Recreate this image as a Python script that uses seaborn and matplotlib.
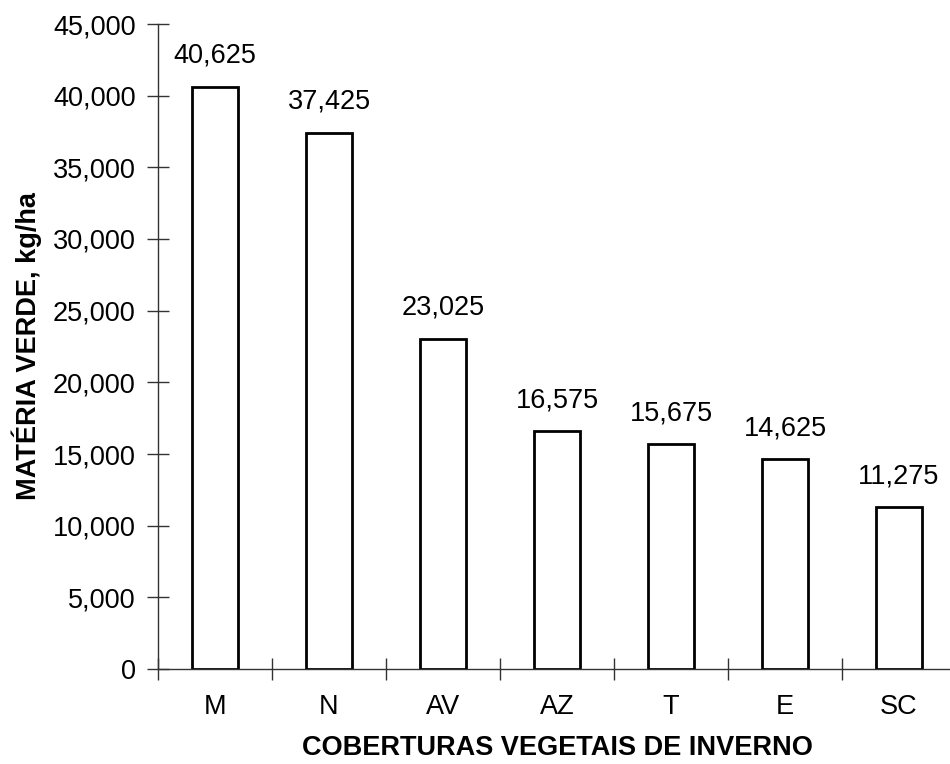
import numpy as np
import pandas as pd
import seaborn as sns
import matplotlib.pyplot as plt
from matplotlib.ticker import FuncFormatter

# data
coberturas = ["M", "N", "AV", "AZ", "T", "E", "SC"]
materia_verde = [40625, 37425, 23025, 16575, 15675, 14625, 11275]

df = pd.DataFrame({"cobertura": coberturas, "mv": materia_verde})

sns.set_style("ticks")
plt.rcParams['font.family'] = ['Liberation Sans', 'DejaVu Sans']
plt.rcParams['text.color'] = 'black'
plt.rcParams['axes.labelcolor'] = 'black'
plt.rcParams['xtick.color'] = 'black'
plt.rcParams['ytick.color'] = 'black'

fs = 19.5

fig = plt.figure(figsize=(9.5, 7.64), dpi=100)
ax = fig.add_axes([158/950, 1 - 669/764, 798/950, 645/764])

sns.barplot(data=df, x="cobertura", y="mv", color="white", edgecolor="black",
            linewidth=2, width=0.4, saturation=1, ax=ax)

# value labels
ax.bar_label(ax.containers[0], labels=[f"{v:,}" for v in materia_verde],
             padding=13, fontsize=fs, color="black")

ax.set_ylim(0, 45000)
ax.set_xlim(-0.5, 6.5)
ax.set_yticks(np.arange(0, 45001, 5000))
ax.yaxis.set_major_formatter(FuncFormatter(lambda v, p: f"{int(v):,}"))

# category boundaries get the tick marks, labels sit in the middle
ax.set_xticks(np.arange(-0.5, 7, 1), minor=True)
ax.tick_params(axis="x", which="major", length=0, labelsize=fs, pad=18, labelcolor="black")
ax.tick_params(axis="x", which="minor", direction="inout", length=16, width=1, color="#333333")
ax.tick_params(axis="y", direction="inout", length=16, width=1, color="#333333",
               labelsize=fs, pad=8, labelcolor="black")

for s in ["top", "right"]:
    ax.spines[s].set_visible(False)
for s in ["left", "bottom"]:
    ax.spines[s].set_color("#333333")
    ax.spines[s].set_linewidth(1)

ax.set_xlabel("COBERTURAS VEGETAIS DE INVERNO", fontsize=fs, fontweight="bold", labelpad=11)
ax.set_ylabel("MATÉRIA VERDE, kg/ha", fontsize=fs, fontweight="bold", labelpad=8)

plt.savefig("out.png", dpi=100)
